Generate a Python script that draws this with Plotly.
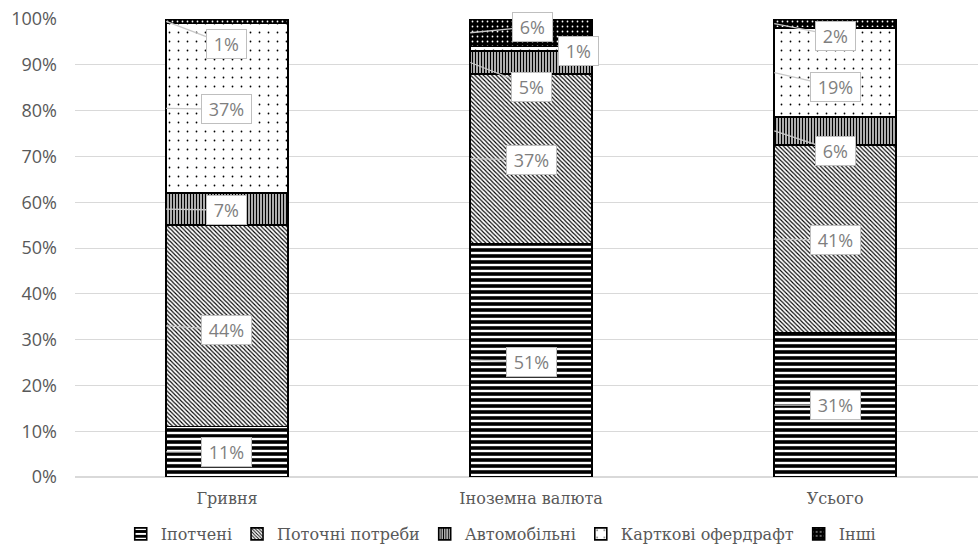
import plotly.graph_objects as go
import numpy as np

categories = ["Гривня", "Іноземна валюта", "Усього"]
series_names = ["Іпотчені", "Поточні потреби", "Автомобільні", "Карткові офердрафт", "Інші"]
mortgage = [11.0, 51.0, 31.4]
current_needs = [44.0, 37.0, 41.1]
auto = [7.0, 5.0, 6.1]
card_overdraft = [37.0, 1.0, 19.4]
other = [1.0, 6.0, 2.0]
y_ticks = list(range(0, 101, 10))
y_tick_labels = [f"{v}%" for v in y_ticks]

series_values = [mortgage, current_needs, auto, card_overdraft, other]

# styles
patterns = [
    dict(shape="-", fgcolor="black", bgcolor="white", size=6, solidity=0.6, fgopacity=1),
    dict(shape="\\", fgcolor="black", bgcolor="white", size=3, solidity=0.37, fgopacity=1),
    dict(shape="|", fgcolor="black", bgcolor="white", size=3, solidity=0.55, fgopacity=1),
    dict(shape=".", fgcolor="black", bgcolor="white", size=9, solidity=0.03, fgopacity=1),
    dict(shape=".", fgcolor="white", bgcolor="black", size=5, solidity=0.1, fgopacity=1),
]
BAR_W = 0.4

fig = go.Figure()
for name, vals, pat in zip(series_names, series_values, patterns):
    fig.add_trace(go.Bar(
        x=categories, y=vals, name=name, width=BAR_W,
        marker=dict(color="white", pattern=pat, line=dict(color="black", width=1.6)),
    ))

# label offsets (pixels): [series][category] -> (dx, dy, leader)
label_offsets = [
    [(60, 0, True), (61, 2, True), (61, 0, True)],
    [(60, 4, True), (61, 1, True), (61, 1, True)],
    [(60, 1, True), (61, 24, True), (61, 20, True)],
    [(60, 1, True), (108, 2, False), (61, 14, True)],
    [(60, 23, True), (62, -6, True), (61, 12, True)],
]

cum = np.zeros(len(categories))
for si, vals in enumerate(series_values):
    vals = np.array(vals)
    mids = cum + vals / 2
    for ci in range(len(categories)):
        dx, dy, leader = label_offsets[si][ci]
        fig.add_annotation(
            x=ci - BAR_W / 2, y=mids[ci], xref="x", yref="y",
            text=f"&nbsp;{vals[ci]:.0f}%&nbsp;",
            showarrow=True, ax=dx, ay=dy, axref="pixel", ayref="pixel",
            arrowhead=0, arrowwidth=1.3,
            arrowcolor="#c8c8c8" if leader else "rgba(0,0,0,0)",
            bgcolor="white", bordercolor="#bfbfbf", borderwidth=1, borderpad=2,
            font=dict(family="Open Sans", size=18, color="#7f7f7f"),
        )
    cum = cum + vals

fig.update_layout(
    width=978, height=551,
    margin=dict(l=75, r=0, t=19, b=74),
    paper_bgcolor="white", plot_bgcolor="white",
    barmode="stack",
    showlegend=True,
    legend=dict(orientation="h", xref="container", yref="container", x=0.512, xanchor="center",
                y=0.0, yanchor="bottom", font=dict(family="DejaVu Serif", size=16, color="#595959"),
                itemwidth=30, traceorder="normal"),
    xaxis=dict(type="category", range=[-0.5, 2.47], showgrid=False, showline=False, ticks="",
               ticklabelstandoff=10,
               tickfont=dict(family="DejaVu Serif", size=16, color="#595959")),
    yaxis=dict(range=[0, 100], tickvals=y_ticks, ticktext=y_tick_labels, showgrid=True, gridcolor="#d9d9d9",
               gridwidth=1, zeroline=True, zerolinecolor="#d9d9d9", showline=False, ticks="",
               ticklabelstandoff=17,
               tickfont=dict(family="Open Sans", size=18, color="#595959")),
)

fig.write_html("out.html")
